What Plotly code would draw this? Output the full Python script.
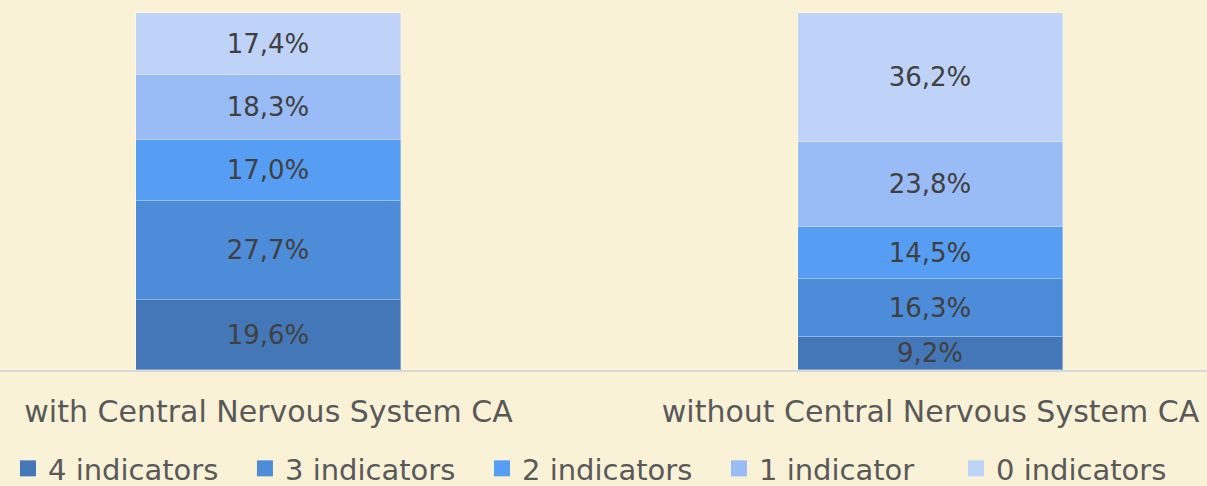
import plotly.graph_objects as go

categories = ["with Central Nervous System CA", "without Central Nervous System CA"]
series_names = ["4 indicators", "3 indicators", "2 indicators", "1 indicator", "0 indicators"]
values_4 = [19.6, 9.2]
values_3 = [27.7, 16.3]
values_2 = [17.0, 14.5]
values_1 = [18.3, 23.8]
values_0 = [17.4, 36.2]
colors = ["#4477B8", "#4D8CD8", "#569EF4", "#99BBF6", "#BFD3F8"]

series_values = [values_4, values_3, values_2, values_1, values_0]
x_pos = [0, 1]

FONT = "DejaVu Sans"
fig = go.Figure()
for name, vals, col in zip(series_names, series_values, colors):
    fig.add_trace(go.Bar(
        x=x_pos, y=vals, name=name,
        marker=dict(color=col, line=dict(color="rgba(255,255,255,0.35)", width=1)),
        width=0.4,
        texttemplate="%{y:.1f}%",
        textposition="inside",
        insidetextanchor="middle",
        textangle=0,
        constraintext="none",
        textfont=dict(family=FONT, size=26, color="#404040"),
        cliponaxis=True,
        showlegend=False,
    ))
    # legend proxy with larger square symbol
    fig.add_trace(go.Scatter(
        x=[None], y=[None], mode="markers", name=name,
        marker=dict(symbol="square", size=17, color=col),
        showlegend=True,
    ))

fig.update_layout(
    barmode="stack",
    width=1207, height=486,
    margin=dict(l=0, r=0, t=13, b=116),
    paper_bgcolor="#FAF2D7",
    plot_bgcolor="#FAF2D7",
    separators=",.",
    uniformtext=dict(minsize=26, mode="show"),
    font=dict(family=FONT, color="#595959"),
    bargap=0,
    xaxis=dict(
        range=[-268.5 / 662, (1207 - 268.5) / 662],
        tickmode="array", tickvals=x_pos, ticktext=categories,
        tickfont=dict(family=FONT, size=30, color="#595959"),
        showgrid=False, zeroline=False,
        showline=True, linecolor="#D9D9D9", linewidth=2,
        ticks="", ticklabelstandoff=14, automargin=False,
    ),
    yaxis=dict(range=[0, 100], visible=False, showgrid=False, zeroline=False),
    legend=dict(
        orientation="h", x=0.0066, xanchor="left",
        yref="container", y=(486 - 443) / 486, yanchor="top",
        font=dict(family=FONT, size=29, color="#595959"),
        entrywidth=192, entrywidthmode="pixels",
        itemwidth=30, traceorder="normal",
        bgcolor="rgba(0,0,0,0)",
    ),
)

fig.write_html("out.html", config={"displayModeBar": False},
               post_script="document.body.style.margin='0';document.body.style.padding='0';")
